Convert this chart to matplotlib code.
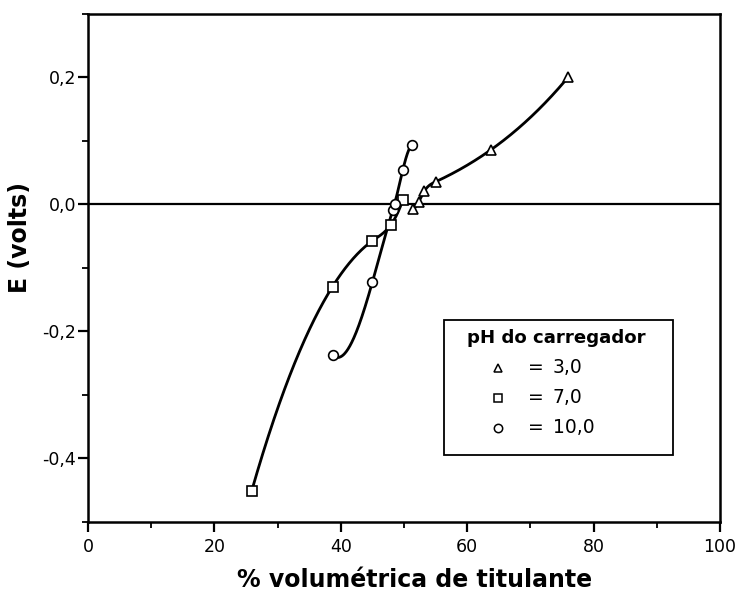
import numpy as np
import matplotlib
matplotlib.use("Agg")
import matplotlib.pyplot as plt
from matplotlib.ticker import MultipleLocator, FuncFormatter
from matplotlib.patches import Rectangle

plt.rcParams["font.family"] = ["DejaVu Sans"]

# pH 3,0 (triangles)
x_ph3 = [51.5, 52.3, 53.2, 55.0, 63.7, 76.0]
y_ph3 = [-0.008, 0.003, 0.020, 0.035, 0.085, 0.200]
# pH 7,0 (squares)
x_ph7 = [25.9, 38.7, 45.0, 47.9, 49.8]
y_ph7 = [-0.452, -0.130, -0.058, -0.033, 0.006]
# pH 10,0 (circles)
x_ph10 = [38.7, 45.0, 48.2, 48.5, 49.8, 51.3]
y_ph10 = [-0.238, -0.123, -0.010, 0.000, 0.053, 0.093]

legend_title = "pH do carregador"
legend_labels = ["3,0", "7,0", "10,0"]
markers = ["^", "s", "o"]


def spline_curve(xs, ys, n=300):
    # cubic spline (not-a-knot ends) through the points, like the original smooth line
    x = np.asarray(xs, float)
    y = np.asarray(ys, float)
    k = len(x)
    h = np.diff(x)
    s = np.diff(y) / h
    A = np.zeros((k, k))
    b = np.zeros(k)
    A[0, 0], A[0, 1], A[0, 2] = h[1], -(h[0] + h[1]), h[0]
    A[-1, -3], A[-1, -2], A[-1, -1] = h[-1], -(h[-2] + h[-1]), h[-2]
    for i in range(1, k - 1):
        A[i, i - 1] = h[i - 1]
        A[i, i] = 2 * (h[i - 1] + h[i])
        A[i, i + 1] = h[i]
        b[i] = 6 * (s[i] - s[i - 1])
    M = np.linalg.solve(A, b)
    xx = np.linspace(x[0], x[-1], n)
    idx = np.clip(np.searchsorted(x, xx) - 1, 0, k - 2)
    t = xx - x[idx]
    hi = h[idx]
    yy = (y[idx] + (s[idx] - hi * (2 * M[idx] + M[idx + 1]) / 6) * t
          + M[idx] / 2 * t ** 2 + (M[idx + 1] - M[idx]) / (6 * hi) * t ** 3)
    return xx, yy


fig = plt.figure(figsize=(7.38, 5.95), dpi=100)
ax = fig.add_axes([0.1192, 0.1235, 0.8564, 0.8538])

ax.axhline(0, color="black", linewidth=1.6, zorder=1)

for xs, ys, m in zip([x_ph3, x_ph7, x_ph10], [y_ph3, y_ph7, y_ph10], markers):
    cx, cy = spline_curve(xs, ys)
    ax.plot(cx, cy, color="black", linewidth=2.0, zorder=2)
    ax.plot(xs, ys, linestyle="none", marker=m, markersize=7,
            markerfacecolor="white", markeredgecolor="black",
            markeredgewidth=1.2, zorder=3)

ax.set_xlim(0, 100)
ax.set_ylim(-0.5, 0.3)
ax.xaxis.set_major_locator(MultipleLocator(20))
ax.xaxis.set_minor_locator(MultipleLocator(10))
ax.yaxis.set_major_locator(MultipleLocator(0.2))
ax.yaxis.set_minor_locator(MultipleLocator(0.1))
ax.yaxis.set_major_formatter(FuncFormatter(lambda v, p: f"{v:.1f}".replace(".", ",")))
ax.xaxis.set_major_formatter(FuncFormatter(lambda v, p: f"{v:.0f}"))

ax.tick_params(which="major", direction="out", length=7, width=1.6, labelsize=12.5)
ax.tick_params(axis="y", which="major", pad=1.5)
ax.tick_params(axis="x", which="major", pad=5)
ax.tick_params(which="minor", direction="out", length=4, width=1.3)
ax.tick_params(top=False, right=False)
for sp in ax.spines.values():
    sp.set_linewidth(1.8)

ax.set_xlabel("% volumétrica de titulante", fontsize=17, fontweight="bold")
ax.set_ylabel("E (volts)", fontsize=17, fontweight="bold")
ax.xaxis.set_label_coords(0.517, -0.092)
ax.yaxis.set_label_coords(-0.088, 0.56)

# legend box drawn by hand
ax.add_patch(Rectangle((0.563, 0.131), 0.363, 0.266, transform=ax.transAxes,
                       facecolor="white", edgecolor="black", linewidth=1.3, zorder=5))
ax.text(0.600, 0.362, legend_title, transform=ax.transAxes, fontsize=13.1,
        fontweight="bold", ha="left", va="center", zorder=6)
for i, (lab, m) in enumerate(zip(legend_labels, markers)):
    yy = 0.303 - i * 0.059
    ax.plot([0.648], [yy], transform=ax.transAxes, marker=m, markersize=6,
            markerfacecolor="white", markeredgecolor="black", markeredgewidth=1.1,
            linestyle="none", zorder=6, clip_on=False)
    ax.text(0.697, yy, "=", transform=ax.transAxes, fontsize=13.5,
            ha="left", va="center", zorder=6)
    ax.text(0.735, yy, lab, transform=ax.transAxes, fontsize=13.5,
            ha="left", va="center", zorder=6)

fig.savefig("out.png", dpi=100)
